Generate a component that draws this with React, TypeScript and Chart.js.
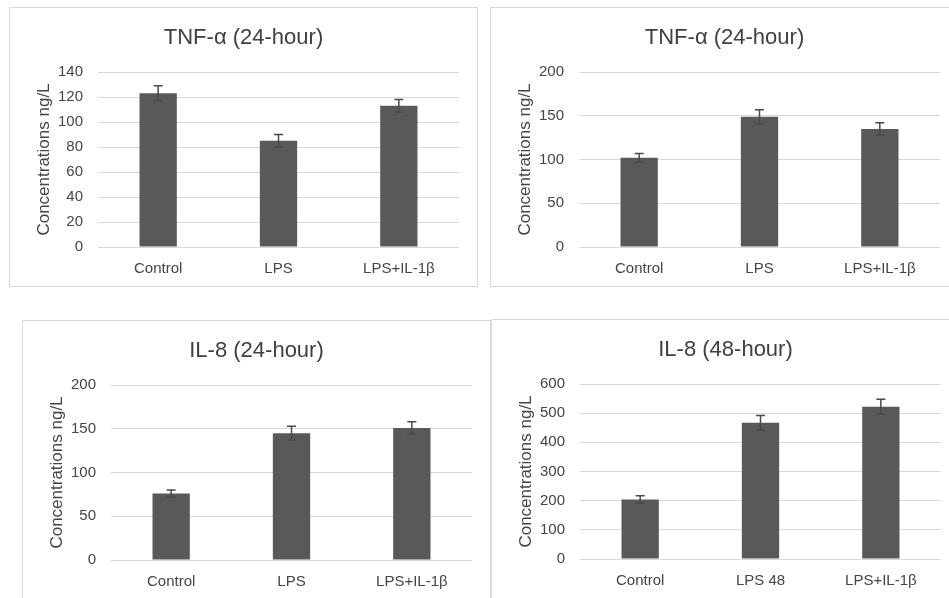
import React, { useEffect, useRef } from "react";
import { Chart, registerables } from "chart.js";

Chart.register(...registerables);

// ---- Data ----
const categoriesLPS = ["Control", "LPS", "LPS+IL-1β"];
const categoriesLPS48 = ["Control", "LPS 48", "LPS+IL-1β"];

const tnfA24Values = [123, 85, 113];
const tnfA24Errors = [6, 5, 5];

const tnfB24Values = [102, 149, 135];
const tnfB24Errors = [5, 8, 7];

const il8h24Values = [76, 145, 151];
const il8h24Errors = [4, 8, 7];

const il8h48Values = [204, 467, 522];
const il8h48Errors = [13, 25, 26];

const titles = ["TNF-α (24-hour)", "TNF-α (24-hour)", "IL-8 (24-hour)", "IL-8 (48-hour)"];
const yAxisTitle = "Concentrations ng/L";
const yMaxes = [140, 200, 200, 600];
const ySteps = [20, 50, 50, 100];

const FONT = "'Liberation Sans', Arial, sans-serif";
const BAR = "#595959";
const GRID = "#d9d9d9";
const TEXT = "#454545";

const errorBarPlugin = {
  id: "errorBars",
  afterDatasetsDraw(chart: any) {
    const errs: number[] = chart.options.plugins.errorBars?.errors || [];
    const ctx = chart.ctx;
    const yScale = chart.scales.y;
    chart.data.datasets.forEach((ds: any, di: number) => {
      const meta = chart.getDatasetMeta(di);
      meta.data.forEach((el: any, i: number) => {
        const v = ds.data[i];
        const e = errs[i];
        if (e == null) return;
        const x = el.x;
        const yTop = yScale.getPixelForValue(v + e);
        const yBot = yScale.getPixelForValue(v - e);
        ctx.save();
        ctx.strokeStyle = "#4a4a4a";
        ctx.lineWidth = 1.5;
        ctx.beginPath();
        ctx.moveTo(x, yTop);
        ctx.lineTo(x, yBot);
        ctx.moveTo(x - 4.5, yTop);
        ctx.lineTo(x + 4.5, yTop);
        ctx.moveTo(x - 4.5, yBot);
        ctx.lineTo(x + 4.5, yBot);
        ctx.stroke();
        ctx.restore();
      });
    });
  },
};

type PanelProps = {
  left: number;
  top: number;
  title: string;
  labels: string[];
  values: number[];
  errors: number[];
  yMax: number;
  yStep: number;
};

const W = 469;
const H = 280;

function Panel({ left, top, title, labels, values, errors, yMax, yStep }: PanelProps) {
  const ref = useRef<HTMLCanvasElement | null>(null);
  useEffect(() => {
    if (!ref.current) return;
    const chart = new Chart(ref.current, {
      type: "bar",
      data: {
        labels,
        datasets: [
          {
            data: values,
            backgroundColor: BAR,
            borderWidth: 0,
            barPercentage: 0.31,
            categoryPercentage: 1,
          },
        ],
      },
      plugins: [errorBarPlugin],
      options: {
        responsive: false,
        animation: false,
        layout: { padding: 0 },
        plugins: {
          legend: { display: false },
          tooltip: { enabled: false },
          title: {
            display: true,
            text: title,
            color: "#404040",
            font: { family: FONT, size: 22, weight: "normal" },
            padding: { top: 18, bottom: 20.6 },
          },
          errorBars: { errors },
        } as any,
        scales: {
          x: {
            grid: { display: false, drawTicks: false },
            border: { display: false },
            ticks: {
              color: TEXT,
              font: { family: FONT, size: 15 },
              padding: 13,
            },
            afterFit: (s: any) => {
              s.height = 40;
            },
          },
          y: {
            min: 0,
            max: yMax,
            grid: { color: GRID, lineWidth: 1, drawTicks: false },
            border: { display: false },
            ticks: {
              stepSize: yStep,
              color: TEXT,
              font: { family: FONT, size: 15 },
              padding: 15,
            },
            title: {
              display: true,
              text: yAxisTitle,
              color: TEXT,
              font: { family: FONT, size: 17 },
              padding: { top: 25, bottom: 0 },
            },
            afterFit: (s: any) => {
              s.width = 89;
            },
          },
          yRight: {
            position: "right",
            display: true,
            min: 0,
            max: 1,
            grid: { display: false, drawTicks: false },
            border: { display: false },
            ticks: { display: false },
            afterFit: (s: any) => {
              s.width = 19;
            },
          },
        },
      },
    });
    return () => chart.destroy();
  }, []);
  return (
    <>
      <canvas
        ref={ref}
        width={W}
        height={H}
        style={{ position: "absolute", left, top, width: W, height: H }}
      />
      <div
        style={{
          position: "absolute",
          left,
          top,
          width: W,
          height: H,
          border: `1px solid ${GRID}`,
          boxSizing: "border-box",
          pointerEvents: "none",
        }}
      />
    </>
  );
}

export default function App() {
  return (
    <div
      style={{
        position: "fixed",
        left: 0,
        top: 0,
        width: 949,
        height: 598,
        overflow: "hidden",
        background: "#ffffff",
      }}
    >
      <Panel left={9} top={7} title={titles[0]} labels={categoriesLPS} values={tnfA24Values} errors={tnfA24Errors} yMax={yMaxes[0]} yStep={ySteps[0]} />
      <Panel left={490} top={7} title={titles[1]} labels={categoriesLPS} values={tnfB24Values} errors={tnfB24Errors} yMax={yMaxes[1]} yStep={ySteps[1]} />
      <Panel left={22} top={320} title={titles[2]} labels={categoriesLPS} values={il8h24Values} errors={il8h24Errors} yMax={yMaxes[2]} yStep={ySteps[2]} />
      <Panel left={491} top={319} title={titles[3]} labels={categoriesLPS48} values={il8h48Values} errors={il8h48Errors} yMax={yMaxes[3]} yStep={ySteps[3]} />
    </div>
  );
}
